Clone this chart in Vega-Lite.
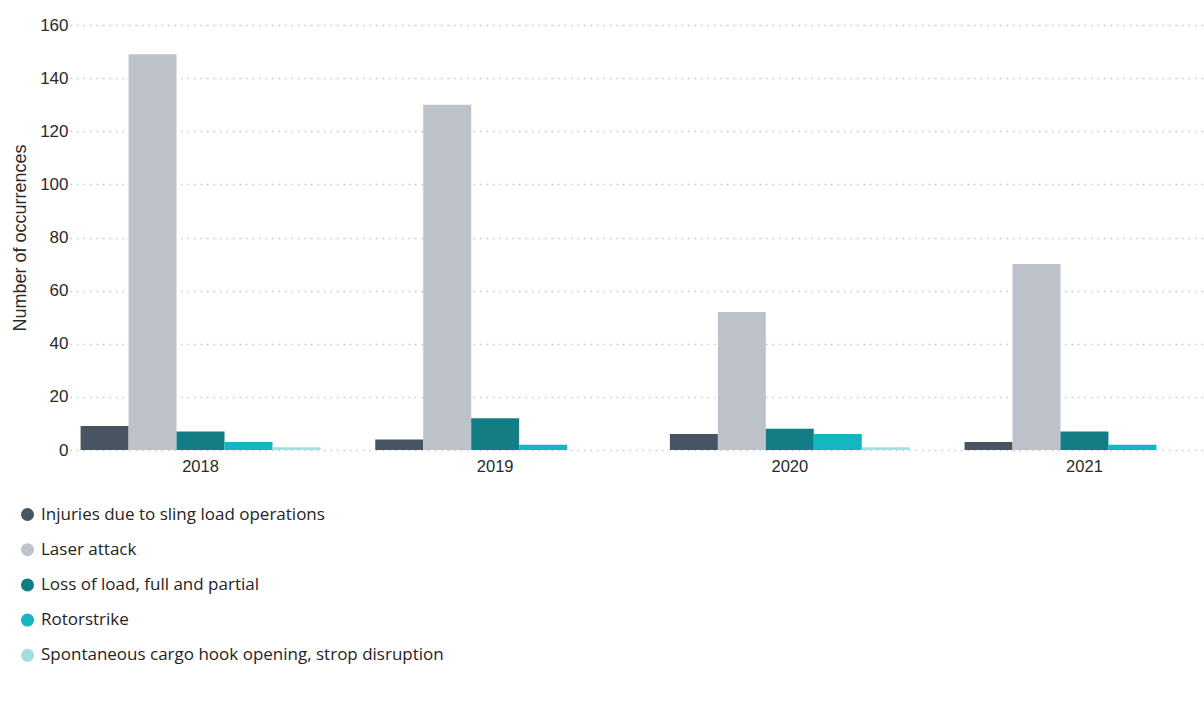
{
  "$schema": "https://vega.github.io/schema/vega-lite/v6.json",
  "autosize": {"type": "none"},
  "padding": {"left": 70, "top": 25, "right": 0, "bottom": 261},
  "width": 1145,
  "height": 425,
  "background": "white",
  "data": {"values": [
    {"year": "2018", "category": "Injuries due to sling load operations", "count": 9},
    {"year": "2018", "category": "Laser attack", "count": 149},
    {"year": "2018", "category": "Loss of load, full and partial", "count": 7},
    {"year": "2018", "category": "Rotorstrike", "count": 3},
    {"year": "2018", "category": "Spontaneous cargo hook opening, strop disruption", "count": 1},
    {"year": "2019", "category": "Injuries due to sling load operations", "count": 4},
    {"year": "2019", "category": "Laser attack", "count": 130},
    {"year": "2019", "category": "Loss of load, full and partial", "count": 12},
    {"year": "2019", "category": "Rotorstrike", "count": 2},
    {"year": "2019", "category": "Spontaneous cargo hook opening, strop disruption", "count": 0},
    {"year": "2020", "category": "Injuries due to sling load operations", "count": 6},
    {"year": "2020", "category": "Laser attack", "count": 52},
    {"year": "2020", "category": "Loss of load, full and partial", "count": 8},
    {"year": "2020", "category": "Rotorstrike", "count": 6},
    {"year": "2020", "category": "Spontaneous cargo hook opening, strop disruption", "count": 1},
    {"year": "2021", "category": "Injuries due to sling load operations", "count": 3},
    {"year": "2021", "category": "Laser attack", "count": 70},
    {"year": "2021", "category": "Loss of load, full and partial", "count": 7},
    {"year": "2021", "category": "Rotorstrike", "count": 2},
    {"year": "2021", "category": "Spontaneous cargo hook opening, strop disruption", "count": 0}
  ]},
  "mark": {"type": "bar"},
  "encoding": {
    "x": {
      "field": "year", "type": "nominal",
      "scale": {"paddingInner": 0.186, "paddingOuter": 0.036},
      "axis": {"title": null, "labelAngle": 0, "domain": false, "ticks": false, "labelFont": "Liberation Sans", "labelFontSize": 16.5, "labelColor": "#2a2a2a", "labelPadding": 8}
    },
    "xOffset": {"field": "category", "type": "nominal", "scale": {"paddingInner": 0, "paddingOuter": 0}},
    "y": {
      "field": "count", "type": "quantitative",
      "scale": {"domain": [0, 160]},
      "axis": {
        "title": "Number of occurrences", "titleFont": "Liberation Sans", "titleFontSize": 18, "titleFontWeight": "normal", "titleColor": "#2a2a2a", "titlePadding": 10,
        "values": [0, 20, 40, 60, 80, 100, 120, 140, 160],
        "domain": false, "ticks": false,
        "labelFont": "Liberation Sans", "labelFontSize": 17, "labelColor": "#2a2a2a", "labelPadding": 2,
        "grid": true, "gridColor": "#c8c8c8", "gridDash": [1.5, 5], "gridWidth": 1.5
      }
    },
    "color": {
      "field": "category", "type": "nominal",
      "scale": {
        "domain": ["Injuries due to sling load operations", "Laser attack", "Loss of load, full and partial", "Rotorstrike", "Spontaneous cargo hook opening, strop disruption"],
        "range": ["#495462", "#BDC2CB", "#127D84", "#15B5C3", "#A3DEE3"]
      },
      "legend": {
        "title": null, "orient": "none", "legendX": -51, "legendY": 481, "direction": "vertical",
        "symbolType": "circle", "symbolSize": 170, "symbolStrokeWidth": 0,
        "labelFont": "Open Sans", "labelFontSize": 17, "labelColor": "#252423", "labelLimit": 500,
        "rowPadding": 17.2, "labelOffset": 5
      }
    }
  },
  "config": {"view": {"stroke": null}}
}
